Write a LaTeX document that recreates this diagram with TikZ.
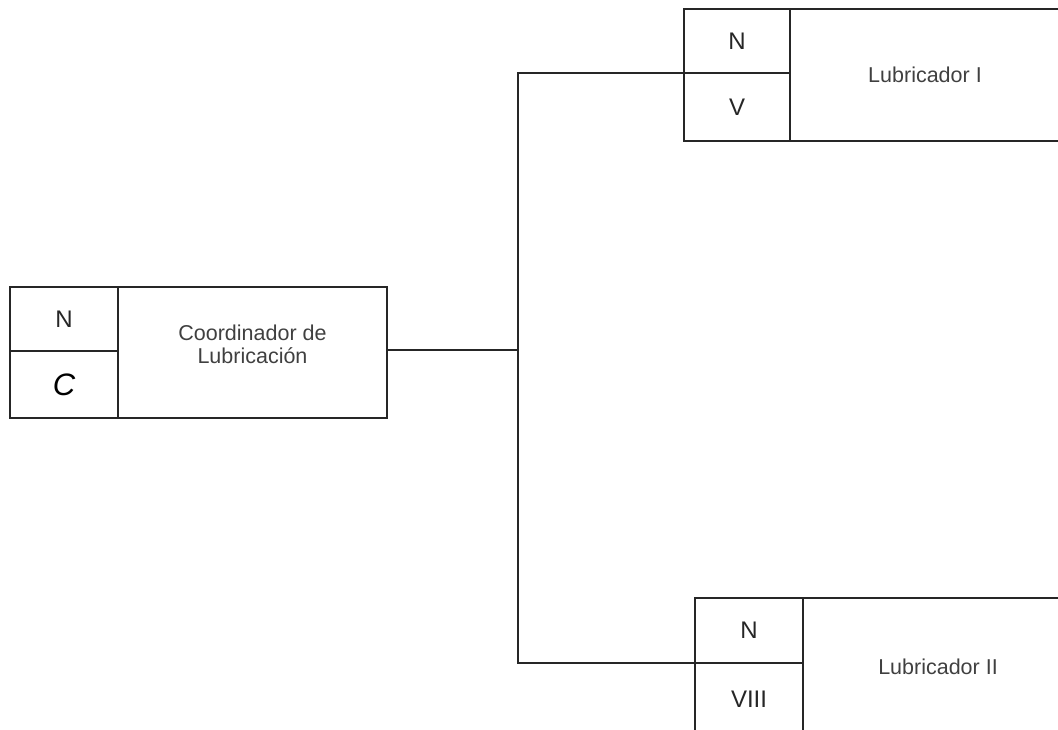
\documentclass[tikz,border=0pt]{standalone}
\usepackage{fontspec}
\setmainfont{Liberation Sans}
\begin{document}
\begin{tikzpicture}[x=1pt,y=-1pt,
  cell/.style={draw=black!85, line width=1.3pt, rectangle, inner sep=0pt, outer sep=0pt, anchor=north west, text=black!85},
  small/.style={font=\fontsize{24}{28}\selectfont},
  bigc/.style={font=\fontsize{31}{34}\selectfont\itshape, text=black},
  mainlab/.style={font=\fontsize{21.5}{23}\selectfont, align=center, text=black!75},
  conn/.style={draw=black!85, line width=1.3pt}]
\useasboundingbox (0,0) rectangle (1058,729);
\clip (0,0) rectangle (1058,729);
% Coordinador
\node[cell, small, minimum width=108pt, minimum height=64pt] (cn) at (10,287) {N};
\node[cell, bigc, minimum width=108pt, minimum height=67pt] (cc) at (10,351) {C};
\node[cell, minimum width=269pt, minimum height=131pt,
  label={[mainlab, yshift=8pt]center:Coordinador de\\Lubricación}] (cm) at (118,287) {};
% Lubricador I
\node[cell, small, minimum width=106pt, minimum height=64pt] (tn) at (684,9) {N};
\node[cell, small, minimum width=106pt, minimum height=68pt] (tv) at (684,73) {V};
\node[cell, mainlab, minimum width=270pt, minimum height=132pt] (tm) at (790,9) {Lubricador I};
% Lubricador II
\node[cell, small, minimum width=108pt, minimum height=65pt] (bn) at (695,598) {N};
\node[cell, small, minimum width=108pt, minimum height=72pt] (bv) at (695,663) {VIII};
\node[cell, mainlab, minimum width=270pt, minimum height=137pt] (bm) at (803,598) {Lubricador II};
% connectors
\coordinate (j) at (518,350);
\draw[conn] (cm.east |- j) -- (j);
\draw[conn] (tv.north west) -| (j);
\draw[conn] (bv.north west) -| (j);
\end{tikzpicture}
\end{document}
